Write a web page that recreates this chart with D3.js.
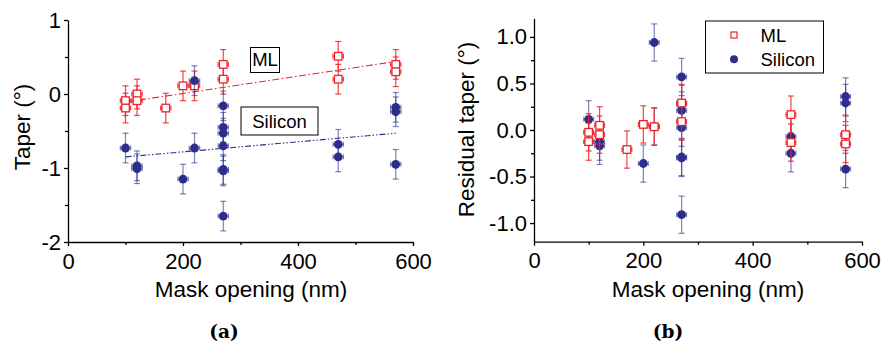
<!DOCTYPE html>
<html>
<head>
<meta charset="utf-8">
<script src="https://cdn.jsdelivr.net/npm/d3@7"></script>
<style>
  body { margin: 0; background: #fff; }
  svg { display: block; font-family: "Liberation Sans", Arial, sans-serif; }
</style>
</head>
<body>
<script>
// ---- panel (a): taper vs mask opening ----
const mlOpeningA = [100, 100, 120, 120, 170, 200, 220, 270, 270, 470, 470, 570, 570];
const mlTaperA   = [-0.09, -0.19, 0.00, -0.09, -0.19, 0.11, 0.11, 0.40, 0.20, 0.51, 0.20, 0.40, 0.30];
const siOpeningA = [100, 120, 120, 200, 220, 220, 270, 270, 270, 270, 270, 270, 270, 470, 470, 570, 570, 570];
const siTaperA   = [-0.73, -0.97, -1.01, -1.15, 0.18, -0.73, -0.16, -0.45, -0.53, -0.70, -1.02, -1.04, -1.65, -0.68, -0.85, -0.18, -0.24, -0.95];

// linear fits drawn on panel (a)
const fitOpening = [100, 570];
const mlFitTaper = [-0.11, 0.44];
const siFitTaper = [-0.85, -0.53];

// ---- panel (b): residual taper ----
const mlOpeningB = [100, 100, 120, 120, 170, 200, 220, 270, 270, 470, 470, 570, 570];
const mlResidB   = [-0.025, -0.125, 0.05, -0.05, -0.21, 0.06, 0.035, 0.29, 0.09, 0.165, -0.135, -0.05, -0.15];
const siOpeningB = [100, 120, 120, 200, 220, 220, 270, 270, 270, 270, 270, 270, 270, 470, 470, 570, 570, 570];
const siResidB   = [0.115, -0.125, -0.17, -0.36, 0.94, 0.04, 0.57, 0.28, 0.21, 0.025, -0.29, -0.30, -0.91, -0.07, -0.25, 0.36, 0.29, -0.42];

// error sizes
const openingErr = 9;     // nm
const taperErr = 0.2;     // degrees

// ticks
const xTicks = [0, 200, 400, 600];
const xMinor = [100, 300, 500];
const yTicksA = [-2, -1, 0, 1];
const yMinorA = [-1.5, -0.5, 0.5];
const yTicksB = [-1.0, -0.5, 0.0, 0.5, 1.0];
const yMinorB = [-0.75, -0.25, 0.25, 0.75];

const RED = "#ee2228", NAVY = "#2d2d8c";

const svg = d3.select("body").append("svg")
	.attr("width", 884)
	.attr("height", 345);
svg.append("rect").attr("width", 884).attr("height", 345).attr("fill", "#fff");

let drawAxes = (g, x, y, yTicks, yMinor, yFmt) => {
	g.append("g").attr("transform", "translate(0," + y.range()[0] + ")")
		.call(d3.axisBottom(x).tickValues(xTicks).tickSize(4).tickSizeOuter(0).tickPadding(7));
	g.append("g").attr("transform", "translate(0," + y.range()[0] + ")")
		.call(d3.axisBottom(x).tickValues(xMinor).tickSize(3).tickSizeOuter(0).tickFormat(""))
		.select(".domain").remove();
	g.append("g").attr("transform", "translate(" + x.range()[0] + ",0)")
		.call(d3.axisLeft(y).tickValues(yTicks).tickSize(4).tickSizeOuter(0).tickPadding(3).tickFormat(yFmt));
	g.append("g").attr("transform", "translate(" + x.range()[0] + ",0)")
		.call(d3.axisLeft(y).tickValues(yMinor).tickSize(3).tickSizeOuter(0).tickFormat(""))
		.select(".domain").remove();
	g.selectAll(".domain, .tick line").attr("stroke", "#000").attr("stroke-width", 1.3);
	g.selectAll(".tick text").attr("font-size", 22).attr("font-family", "Liberation Sans, Arial, sans-serif").attr("fill", "#000");
}

let drawSeries = (g, x, y, xs, ys, color, shape, barOpacity) => {
	let pts = xs.map((v, i) => ({ x: v, y: ys[i] }));
	let eb = g.append("g").attr("stroke", color).attr("stroke-opacity", barOpacity).attr("stroke-width", 1.2);
	// vertical error bars + caps
	eb.selectAll("line.v").data(pts).join("line").attr("class", "v")
		.attr("x1", d => x(d.x)).attr("x2", d => x(d.x))
		.attr("y1", d => y(d.y + taperErr)).attr("y2", d => y(d.y - taperErr));
	eb.selectAll("line.vt").data(pts).join("line").attr("class", "vt")
		.attr("x1", d => x(d.x) - 3).attr("x2", d => x(d.x) + 3)
		.attr("y1", d => y(d.y + taperErr)).attr("y2", d => y(d.y + taperErr));
	eb.selectAll("line.vb").data(pts).join("line").attr("class", "vb")
		.attr("x1", d => x(d.x) - 3).attr("x2", d => x(d.x) + 3)
		.attr("y1", d => y(d.y - taperErr)).attr("y2", d => y(d.y - taperErr));
	// horizontal error bars + caps
	eb.selectAll("line.h").data(pts).join("line").attr("class", "h")
		.attr("x1", d => x(d.x - openingErr)).attr("x2", d => x(d.x + openingErr))
		.attr("y1", d => y(d.y)).attr("y2", d => y(d.y));
	eb.selectAll("line.hl").data(pts).join("line").attr("class", "hl")
		.attr("x1", d => x(d.x - openingErr)).attr("x2", d => x(d.x - openingErr))
		.attr("y1", d => y(d.y) - 2.5).attr("y2", d => y(d.y) + 2.5);
	eb.selectAll("line.hr").data(pts).join("line").attr("class", "hr")
		.attr("x1", d => x(d.x + openingErr)).attr("x2", d => x(d.x + openingErr))
		.attr("y1", d => y(d.y) - 2.5).attr("y2", d => y(d.y) + 2.5);

	if (shape === "square") {
		g.append("g").selectAll("rect").data(pts).join("rect")
			.attr("x", d => x(d.x) - 3.8).attr("y", d => y(d.y) - 3.8)
			.attr("width", 7.6).attr("height", 7.6)
			.attr("fill", "#fff").attr("stroke", color).attr("stroke-width", 1.3);
	} else {
		g.append("g").selectAll("circle").data(pts).join("circle")
			.attr("cx", d => x(d.x)).attr("cy", d => y(d.y)).attr("r", 4.4)
			.attr("fill", color);
	}
}

let addLabel = (g, text, x, y, size, rotate) => {
	g.append("text").attr("x", x).attr("y", y)
		.attr("text-anchor", "middle").attr("font-size", size).attr("fill", "#000")
		.attr("transform", rotate ? "rotate(-90," + x + "," + y + ")" : null)
		.text(text);
}

// ===== panel (a) =====
let xA = d3.scaleLinear().domain([0, 600]).range([68, 413]);
let yA = d3.scaleLinear().domain([-2, 1]).range([242, 20]);
let gA = svg.append("g");

let fitLine = d3.line().x(d => xA(d[0])).y(d => yA(d[1]));
gA.append("path").datum(fitOpening.map((v, i) => [v, mlFitTaper[i]]))
	.attr("d", fitLine).attr("fill", "none").attr("stroke", RED).attr("stroke-width", 1.1)
	.attr("stroke-dasharray", "7,2.5,1.5,2.5");
gA.append("path").datum(fitOpening.map((v, i) => [v, siFitTaper[i]]))
	.attr("d", fitLine).attr("fill", "none").attr("stroke", NAVY).attr("stroke-width", 1.1)
	.attr("stroke-dasharray", "6,2,1.5,2,1.5,2");

drawSeries(gA, xA, yA, mlOpeningA, mlTaperA, RED, "square", 0.85);
drawSeries(gA, xA, yA, siOpeningA, siTaperA, NAVY, "circle", 0.6);
drawAxes(gA, xA, yA, yTicksA, yMinorA, d => String(d).replace("\u2212", "-"));

// in-plot labels
gA.append("rect").attr("x", 250.5).attr("y", 47.5).attr("width", 29).attr("height", 25)
	.attr("fill", "#fff").attr("stroke", "#000").attr("stroke-width", 1);
addLabel(gA, "ML", 265, 66, 18.5);
gA.append("rect").attr("x", 241).attr("y", 107).attr("width", 77).attr("height", 28)
	.attr("fill", "#fff").attr("stroke", "#000").attr("stroke-width", 1);
addLabel(gA, "Silicon", 279.5, 127.5, 18.5);

addLabel(gA, "Mask opening (nm)", 251, 297, 22.5);
addLabel(gA, "Taper (\u00b0)", 30, 127, 22.5, true);

// ===== panel (b) =====
let xB = d3.scaleLinear().domain([0, 600]).range([534, 862]);
let yB = d3.scaleLinear().domain([-1.2, 1.2]).range([241.7, 18.3]);
let gB = svg.append("g");

drawSeries(gB, xB, yB, siOpeningB, siResidB, NAVY, "circle", 0.6);
drawSeries(gB, xB, yB, mlOpeningB, mlResidB, RED, "square", 0.85);
drawAxes(gB, xB, yB, yTicksB, yMinorB, d => d.toFixed(1));

// legend
let lg = gB.append("g");
lg.append("rect").attr("x", 705.5).attr("y", 21).attr("width", 118).attr("height", 52)
	.attr("fill", "#fff").attr("stroke", "#000").attr("stroke-width", 1);
lg.append("rect").attr("x", 731).attr("y", 32).attr("width", 6).attr("height", 6)
	.attr("fill", "#fff").attr("stroke", RED).attr("stroke-width", 1.2);
lg.append("circle").attr("cx", 734).attr("cy", 59.3).attr("r", 4).attr("fill", NAVY);
lg.append("text").attr("x", 760.5).attr("y", 42).attr("font-size", 18.5).text("ML");
lg.append("text").attr("x", 760.5).attr("y", 65.5).attr("font-size", 18.5).text("Silicon");

addLabel(gB, "Mask opening (nm)", 708, 297, 22.5);
addLabel(gB, "Residual taper (\u00b0)", 474, 129.5, 22.5, true);

// captions
svg.append("text").attr("x", 224).attr("y", 338).attr("text-anchor", "middle")
	.attr("font-family", "DejaVu Serif, serif").attr("font-weight", "bold").attr("font-size", 18.5)
	.text("(a)");
svg.append("text").attr("x", 668).attr("y", 338).attr("text-anchor", "middle")
	.attr("font-family", "DejaVu Serif, serif").attr("font-weight", "bold").attr("font-size", 18.5)
	.text("(b)");
</script>
</body>
</html>
